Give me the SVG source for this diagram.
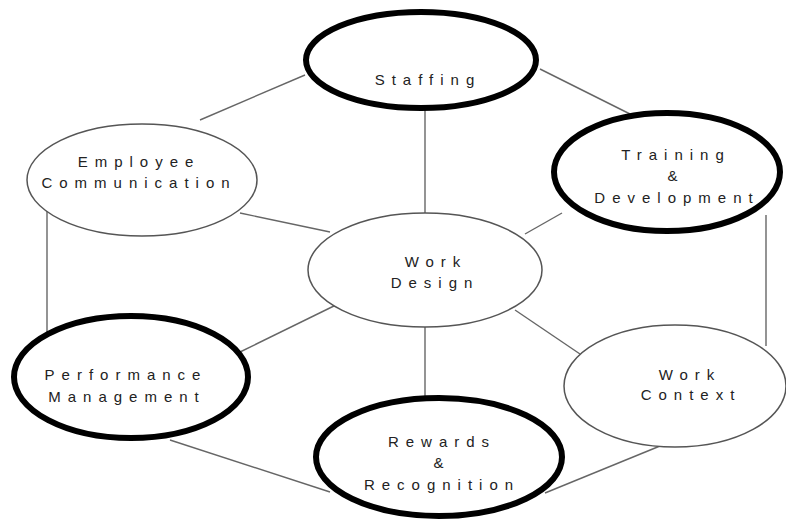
<svg xmlns="http://www.w3.org/2000/svg" width="786" height="522" viewBox="0 0 786 522">
<style>
.thin{fill:#fff;stroke:#555;stroke-width:1.5}
.thick{fill:#fff;stroke:#000;stroke-width:6}
.lbl{font-family:"Liberation Sans",Arial,sans-serif;font-size:15px;letter-spacing:7px;fill:#222;text-anchor:middle}
.con line{stroke:#666;stroke-width:1.4}
</style>
<rect width="786" height="522" fill="#fff"/>
<g class="con">
<line x1="305" y1="75" x2="200" y2="120"/>
<line x1="540" y1="69" x2="630" y2="114"/>
<line x1="425" y1="110" x2="425" y2="214"/>
<line x1="240" y1="213" x2="330" y2="232"/>
<line x1="562" y1="213" x2="525" y2="234"/>
<line x1="47" y1="210" x2="47" y2="332"/>
<line x1="766" y1="215" x2="766" y2="346"/>
<line x1="340" y1="303" x2="240" y2="352"/>
<line x1="515" y1="310" x2="580" y2="354"/>
<line x1="425" y1="326" x2="425" y2="398"/>
<line x1="170" y1="440" x2="330" y2="492"/>
<line x1="660" y1="446" x2="545" y2="493"/>
</g>
<g id="staffing">
<ellipse class="thick" cx="421" cy="60" rx="115" ry="48"/>
<text class="lbl" x="428" y="85">Staffing</text>
</g>
<g id="employee-communication">
<ellipse class="thin" cx="142" cy="180" rx="115" ry="56"/>
<text class="lbl" x="139" y="167">Employee</text>
<text class="lbl" x="139" y="188">Communication</text>
</g>
<g id="training-development">
<ellipse class="thick" cx="667" cy="172" rx="113" ry="59"/>
<text class="lbl" x="676" y="160">Training</text>
<text class="lbl" x="676" y="181">&amp;</text>
<text class="lbl" x="677" y="203">Development</text>
</g>
<g id="work-design">
<ellipse class="thin" cx="425" cy="270" rx="117" ry="57"/>
<text class="lbl" x="436" y="267">Work</text>
<text class="lbl" x="435" y="288">Design</text>
</g>
<g id="performance-management">
<ellipse class="thick" cx="131" cy="377" rx="117" ry="61"/>
<text class="lbl" x="126" y="380">Performance</text>
<text class="lbl" x="127" y="402">Management</text>
</g>
<g id="work-context">
<ellipse class="thin" cx="675" cy="386" rx="111" ry="61"/>
<text class="lbl" x="690" y="380">Work</text>
<text class="lbl" x="691" y="400">Context</text>
</g>
<g id="rewards-recognition">
<ellipse class="thick" cx="439" cy="457" rx="123" ry="59"/>
<text class="lbl" x="442" y="447">Rewards</text>
<text class="lbl" x="442" y="468">&amp;</text>
<text class="lbl" x="442" y="490">Recognition</text>
</g>
</svg>
